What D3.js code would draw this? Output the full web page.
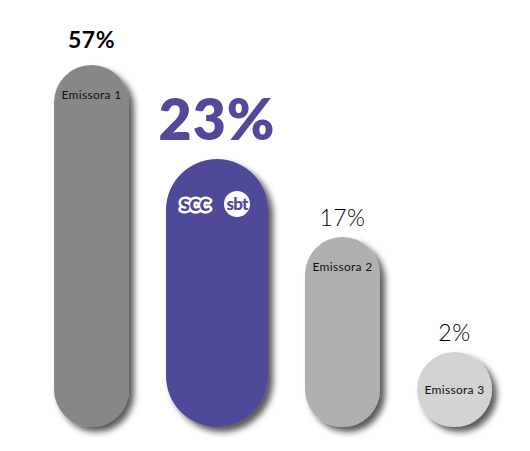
<!DOCTYPE html>
<html>
<head>
<meta charset="utf-8">
<script src="https://cdn.jsdelivr.net/npm/d3@7"></script>
<style>
  body { margin: 0; background: #fff; }
  svg { display: block; font-family: Lato, "Noto Sans", sans-serif; }
</style>
</head>
<body>
<div id="chart"></div>
<script>
// audience share per station
const stations = ["Emissora 1", "SBT", "Emissora 2", "Emissora 3"];
const shares = [57, 23, 17, 2];
const shareLabels = ["57%", "23%", "17%", "2%"];
const highlight = "SBT";

const width = 530, height = 451;
const baseline = 427;
const gap = 37;
const colors = ["#878787", "#4f4a9a", "#b0b0b0", "#d3d3d3"];

const data = stations.map((s, i) => ({ name: s, share: shares[i], label: shareLabels[i], color: colors[i] }));

// bar widths: highlighted one is wider
const barW = d => d.name === highlight ? 102 : 75;
const xs = d3.cumsum(data, d => barW(d) + gap);
data.forEach((d, i) => { d.x = 54 + (i ? xs[i - 1] : 0); d.w = barW(d); });

// the design uses a non-linear height scale
const y = d3.scaleLinear()
  .domain([2, 17, 23, 57])
  .range([352, 237, 159, 65]);

const svg = d3.select("#chart").append("svg")
  .attr("width", width)
  .attr("height", height);

const defs = svg.append("defs");
const f = defs.append("filter").attr("id", "shadow")
  .attr("x", "-30%").attr("y", "-30%").attr("width", "170%").attr("height", "160%");
f.append("feDropShadow")
  .attr("dx", 5).attr("dy", 5)
  .attr("stdDeviation", 3)
  .attr("flood-color", "#000")
  .attr("flood-opacity", 0.65);

const bars = svg.append("g").selectAll("g")
  .data(data)
  .join("g");

bars.append("rect")
  .attr("x", d => d.x)
  .attr("y", d => y(d.share))
  .attr("width", d => d.w)
  .attr("height", d => baseline - y(d.share))
  .attr("rx", d => d.w / 2)
  .attr("ry", d => d.w / 2)
  .attr("fill", d => d.color)
  .attr("filter", "url(#shadow)");

const maxShare = d3.max(shares);

// value labels
bars.append("text")
  .attr("x", d => d.x + d.w / 2)
  .attr("y", d => y(d.share) - (d.name === highlight ? 19 : d.share === maxShare ? 17 : 11))
  .attr("text-anchor", "middle")
  .attr("fill", d => d.name === highlight ? "#4f4a9a" : "#000")
  .attr("font-size", d => d.name === highlight ? 57 : 23)
  .attr("letter-spacing", d => d.name === highlight ? 1 : 0.5)
  .attr("font-weight", d => d.name === highlight ? 800 : d.share === maxShare ? 700 : 300)
  .text(d => d.label);

// station names inside the bars
bars.filter(d => d.name !== highlight)
  .append("text")
  .attr("x", d => d.x + d.w / 2)
  .attr("y", d => {
    const h = baseline - y(d.share);
    return h <= d.w + 1 ? y(d.share) + h / 2 + 4 : y(d.share) + 34;
  })
  .attr("text-anchor", "middle")
  .attr("fill", "#111")
  .attr("font-size", 12)
  .attr("letter-spacing", 0.3)
  .text(d => d.name);

// logos for the highlighted station
const hl = data.find(d => d.name === highlight);
const lg = svg.append("g")
  .attr("transform", `translate(${hl.x + hl.w / 2},${y(hl.share) + 46})`);
lg.append("text")
  .attr("x", -22).attr("y", 6)
  .attr("text-anchor", "middle")
  .attr("font-size", 22).attr("font-weight", 900)
  .attr("fill", hl.color)
  .attr("stroke", "#fff").attr("stroke-width", 5)
  .attr("stroke-linejoin", "round")
  .attr("paint-order", "stroke")
  .attr("letter-spacing", -0.5)
  .text("scc");
lg.append("circle")
  .attr("cx", 20).attr("cy", -1).attr("r", 13)
  .attr("fill", "#fff");
lg.append("text")
  .attr("x", 20).attr("y", 5)
  .attr("text-anchor", "middle")
  .attr("font-size", 17).attr("font-weight", 900)
  .attr("fill", hl.color)
  .attr("letter-spacing", -0.8)
  .text("sbt");
</script>
</body>
</html>
